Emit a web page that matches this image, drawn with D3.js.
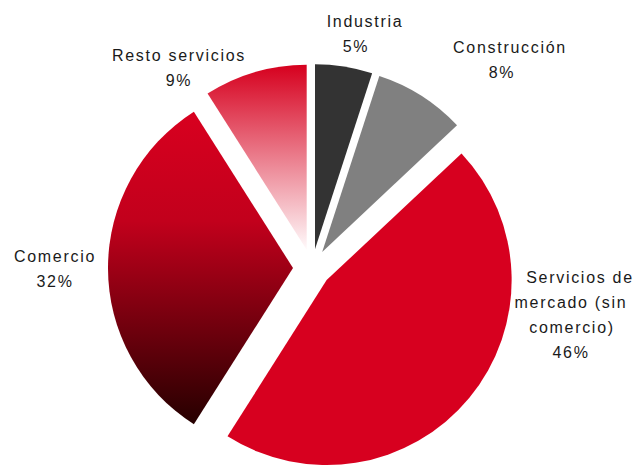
<!DOCTYPE html>
<html>
<head>
<meta charset="utf-8">
<script src="https://cdn.jsdelivr.net/npm/d3@7"></script>
<style>
  html, body { margin: 0; padding: 0; background: #fff; }
  svg { display: block; }
  text { font-family: "Liberation Sans", Arial, sans-serif; font-size: 16px; fill: #1a1a1a; letter-spacing: 1.7px; }
</style>
</head>
<body>
<script>
// ---- data ----
const categories = ["Industria", "Construcción", "Servicios de mercado (sin comercio)", "Comercio", "Resto servicios"];
const values = [5, 8, 46, 32, 9];
const labelLines = [
  ["Industria", "5%"],
  ["Construcción", "8%"],
  ["Servicios de", "mercado (sin", "comercio)", "46%"],
  ["Comercio", "32%"],
  ["Resto servicios", "9%"]
];

// ---- layout ----
const W = 637, H = 466;
const cx = 312, cy = 268, R = 185, explode = 19;
const lineH = 25;
// label line centres (x) and first baseline (y)
const labelLayout = [
  { xs: [365, 356], y: 27 },
  { xs: [510, 502], y: 53 },
  { xs: [580, 571, 572, 571], y: 283 },
  { xs: [55, 55], y: 262 },
  { xs: [179, 179], y: 61 }
];

const svg = d3.select("body").append("svg").attr("width", W).attr("height", H);
const defs = svg.append("defs");

const g1 = defs.append("linearGradient").attr("id", "gradComercio")
  .attr("x1", 0).attr("y1", 0).attr("x2", 0).attr("y2", 1);
g1.append("stop").attr("offset", "0%").attr("stop-color", "#d8001f");
g1.append("stop").attr("offset", "35%").attr("stop-color", "#c2001c");
g1.append("stop").attr("offset", "100%").attr("stop-color", "#260000");

const g2 = defs.append("linearGradient").attr("id", "gradResto")
  .attr("x1", 0).attr("y1", 0).attr("x2", 0).attr("y2", 1);
g2.append("stop").attr("offset", "0%").attr("stop-color", "#d6001e");
g2.append("stop").attr("offset", "100%").attr("stop-color", "#fffafb");

const fills = ["#333333", "#808080", "#d7001f", "url(#gradComercio)", "url(#gradResto)"];

const pie = d3.pie().sort(null).startAngle(0).endAngle(2 * Math.PI);
const arcs = pie(values);
const arc = d3.arc().innerRadius(0).outerRadius(R);

const gPie = svg.append("g").attr("transform", `translate(${cx},${cy})`);
gPie.selectAll("path").data(arcs).enter().append("path")
  .attr("d", arc)
  .attr("fill", (d, i) => fills[i])
  .attr("transform", d => {
    const a = (d.startAngle + d.endAngle) / 2;
    return `translate(${Math.sin(a) * explode},${-Math.cos(a) * explode})`;
  });

// labels
labelLines.forEach((lines, i) => {
  const L = labelLayout[i];
  const t = svg.append("text").attr("text-anchor", "middle");
  lines.forEach((ln, j) => {
    t.append("tspan").attr("x", L.xs[j]).attr("y", L.y + j * lineH).text(ln);
  });
});
</script>
</body>
</html>
